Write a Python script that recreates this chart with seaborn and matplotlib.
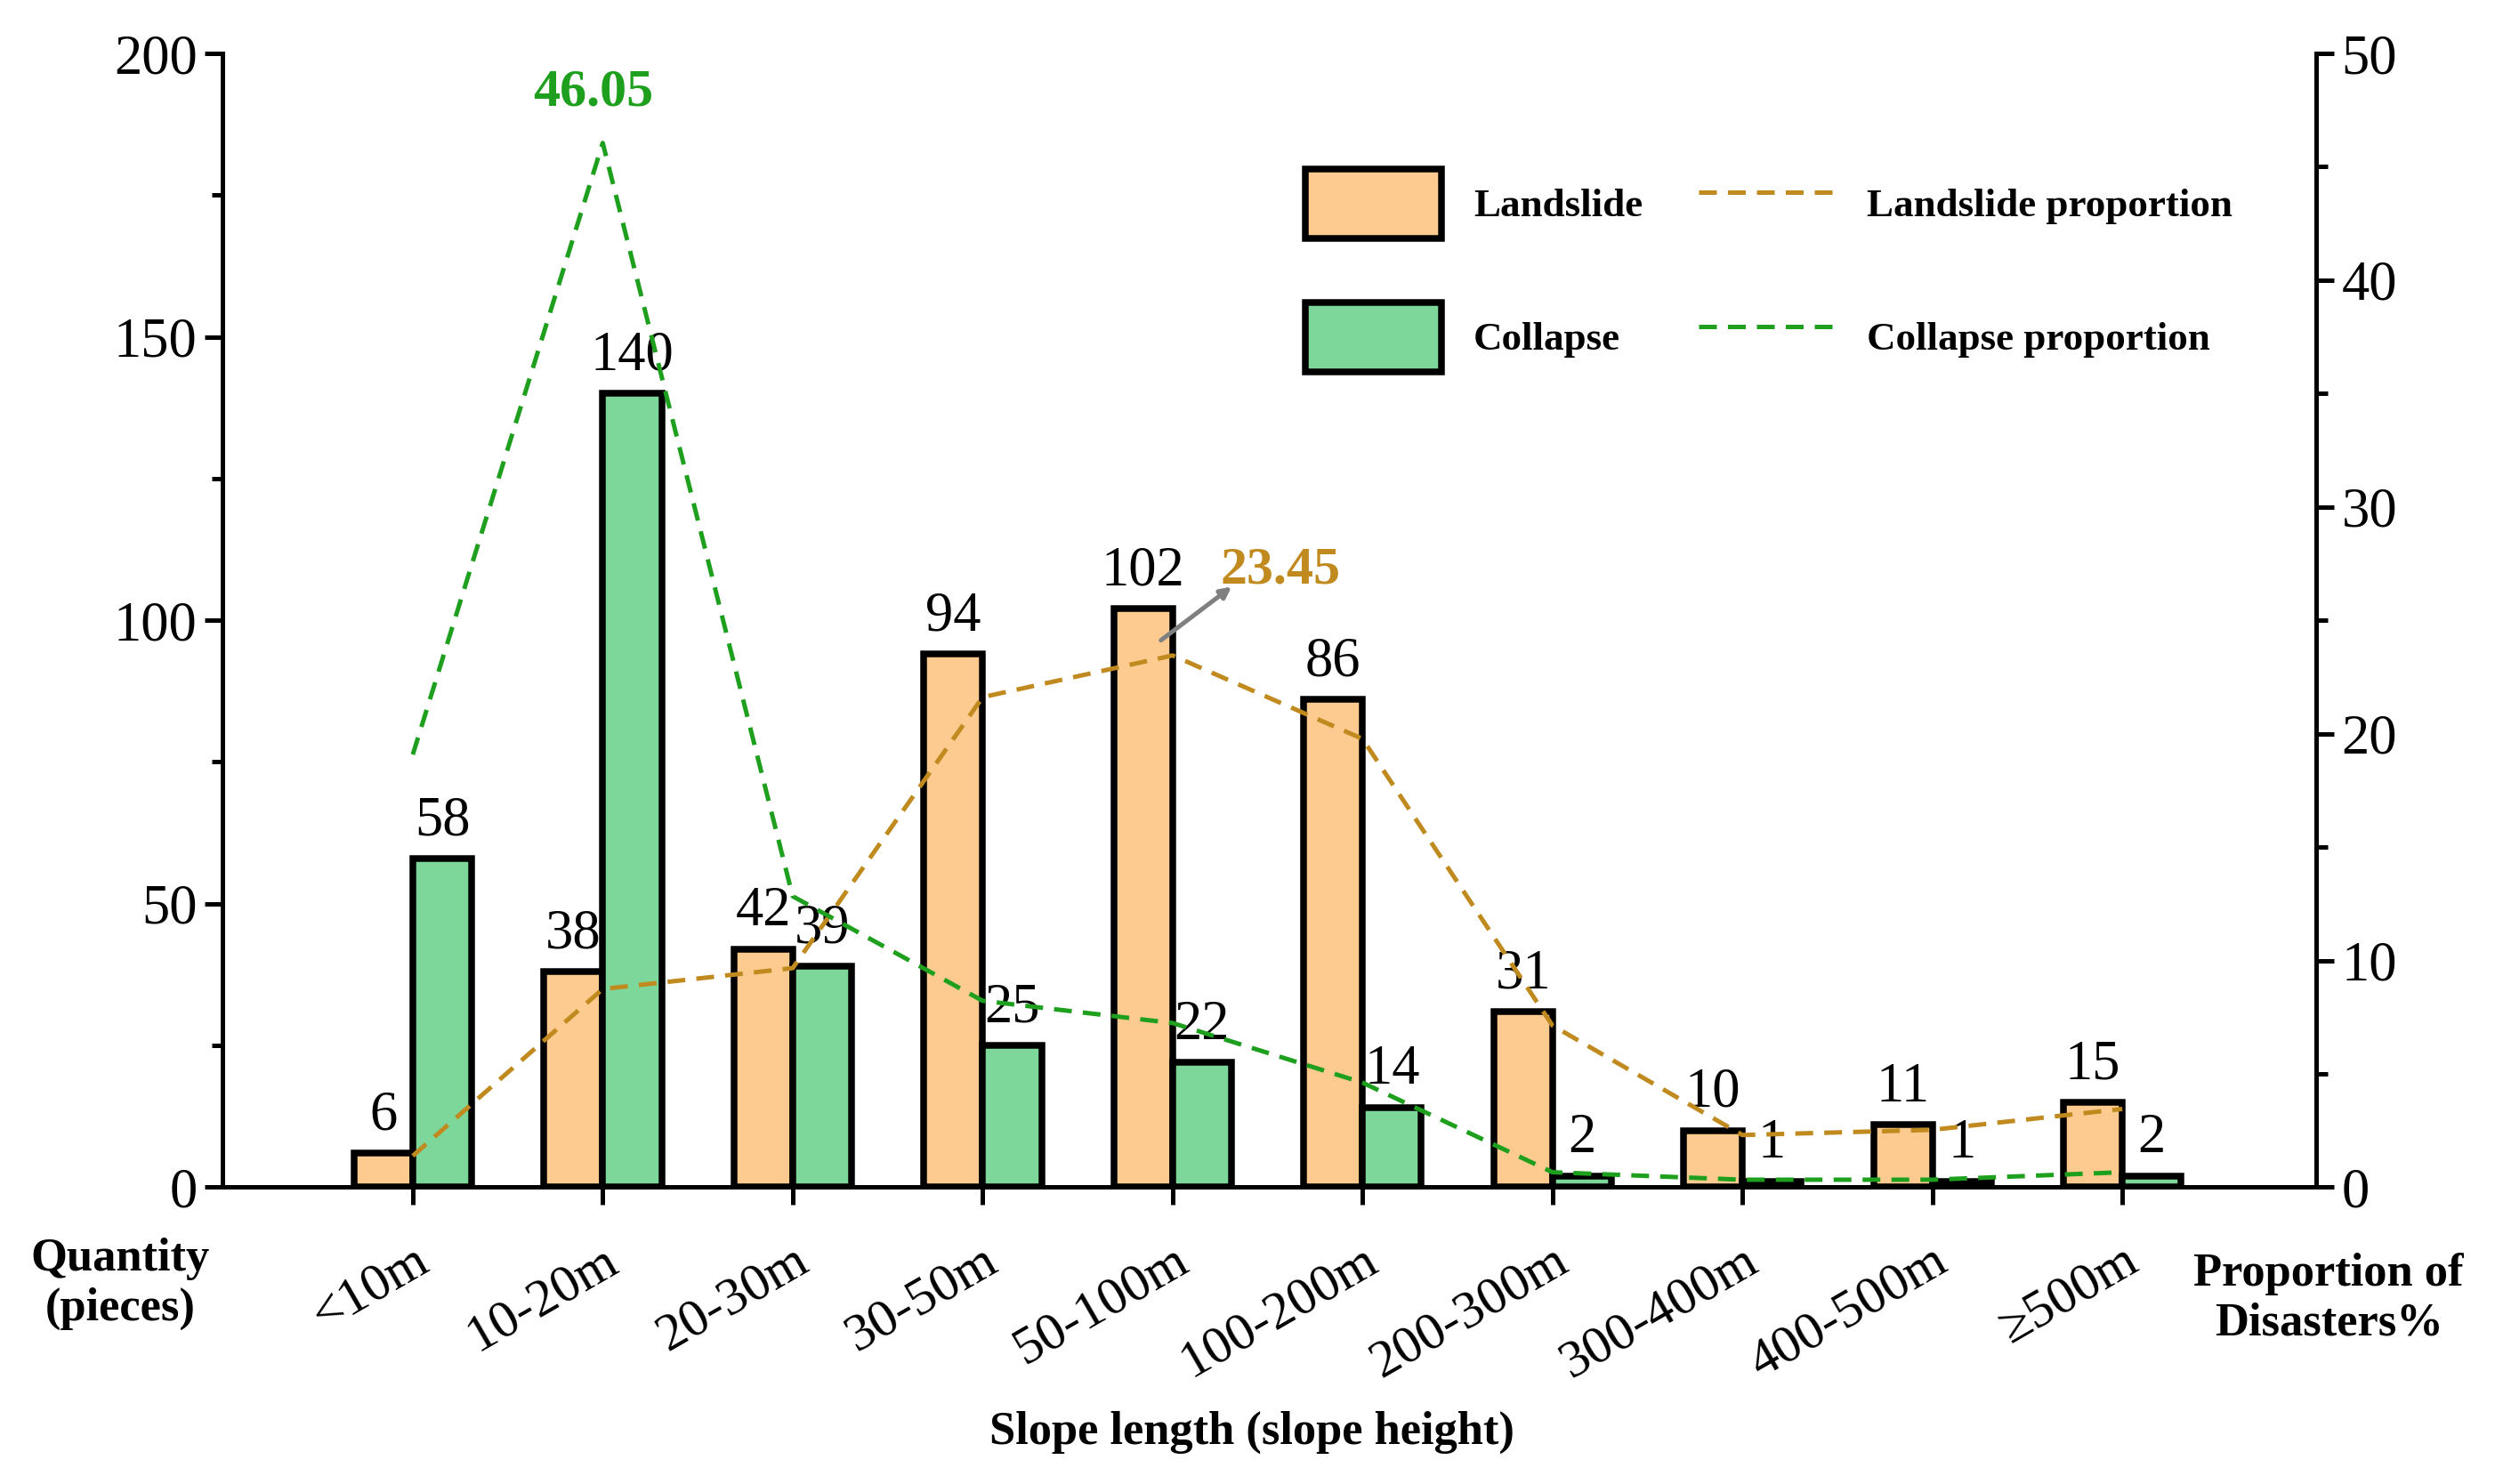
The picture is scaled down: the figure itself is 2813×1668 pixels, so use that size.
import matplotlib
matplotlib.use("Agg")
import matplotlib.pyplot as plt
import seaborn as sns
import pandas as pd
import numpy as np
from matplotlib.patches import Patch
from matplotlib.lines import Line2D

# ---------------- data ----------------
categories = ["<10m", "10-20m", "20-30m", "30-50m", "50-100m",
              "100-200m", "200-300m", "300-400m", "400-500m", "\u2265500m"]
landslide = [6, 38, 42, 94, 102, 86, 31, 10, 11, 15]
collapse = [58, 140, 39, 25, 22, 14, 2, 1, 1, 2]
landslide_prop = [1.38, 8.74, 9.66, 21.61, 23.45, 19.77, 7.13, 2.30, 2.53, 3.45]
collapse_prop = [19.08, 46.05, 12.83, 8.22, 7.24, 4.61, 0.66, 0.33, 0.33, 0.66]

C_LAND = "#FDCB8F"
C_COLL = "#7DD69A"
C_LLINE = "#C08A1E"
C_CLINE = "#1EA01E"

plt.rcParams["font.family"] = "Liberation Serif"

df = pd.DataFrame({
    "cat": categories * 2,
    "count": landslide + collapse,
    "type": ["Landslide"] * 10 + ["Collapse"] * 10,
})

fig = plt.figure(figsize=(15.633, 9.267), dpi=180)
ax = fig.add_axes([0.089, 0.2, 0.836, 0.764])

sns.barplot(data=df, x="cat", y="count", hue="type", order=categories,
            palette={"Landslide": C_LAND, "Collapse": C_COLL},
            width=0.62, edgecolor="black", linewidth=3, saturation=1,
            legend=False, ax=ax)

x = np.arange(len(categories))
for i in range(len(categories)):
    ax.text(i - 0.155, landslide[i] + 2, str(landslide[i]), ha="center",
            va="bottom", fontsize=25)
    ax.text(i + 0.155, collapse[i] + 2, str(collapse[i]), ha="center",
            va="bottom", fontsize=25)

ax.set_xlim(-1, 10.02)
ax.set_ylim(0, 200)
ax.set_yticks([0, 50, 100, 150, 200])
ax.set_yticks(np.arange(0, 201, 25), minor=True)
ax.set_xticks(x)
ax.set_xticklabels(categories, rotation=30, ha="right", rotation_mode="anchor",
                   fontsize=24)
ax.tick_params(axis="y", labelsize=25, width=2, length=8)
ax.tick_params(axis="y", which="minor", width=2, length=5)
ax.tick_params(axis="x", width=2, length=8, pad=14)
ax.set_xlabel("")
ax.set_ylabel("")
ax.spines["top"].set_visible(False)
for s in ["left", "bottom", "right"]:
    ax.spines[s].set_linewidth(2)

ax2 = ax.twinx()
ax2.plot(x, landslide_prop, ls=(0, (4, 2.5)), color=C_LLINE, lw=2)
ax2.plot(x, collapse_prop, ls=(0, (4, 2.5)), color=C_CLINE, lw=2)
ax2.set_ylim(0, 50)
ax2.set_yticks([0, 10, 20, 30, 40, 50])
ax2.set_yticks(np.arange(0, 51, 5), minor=True)
ax2.tick_params(axis="y", labelsize=25, width=2, length=8)
ax2.tick_params(axis="y", which="minor", width=2, length=5)
ax2.spines["top"].set_visible(False)
ax2.spines["right"].set_linewidth(2)

ax2.text(0.95, 47.2, "46.05", color=C_CLINE, fontsize=24, fontweight="bold",
         ha="center", va="bottom")
ax2.annotate("23.45", xy=(4.25, 27.2), color=C_LLINE,
             fontsize=24, fontweight="bold", va="center")
ax2.annotate("", xy=(4.33, 26.6), xytext=(3.92, 24.0),
             arrowprops=dict(arrowstyle="-|>", color="gray", lw=2))

handles = [Patch(facecolor=C_LAND, edgecolor="black", linewidth=3),
           Patch(facecolor=C_COLL, edgecolor="black", linewidth=3),
           Line2D([], [], color=C_LLINE, ls=(0, (4, 2.5)), lw=2),
           Line2D([], [], color=C_CLINE, ls=(0, (4, 2.5)), lw=2)]
labels = ["Landslide", "Collapse", "Landslide proportion", "Collapse proportion"]
ax2.legend(handles, labels, ncol=2, loc="upper left",
           bbox_to_anchor=(0.5, 0.93), frameon=False,
           prop={"family": "Liberation Serif", "weight": "bold", "size": 18},
           handlelength=3.4, handleheight=2.3, labelspacing=1.6,
           columnspacing=1.4)

fig.text(0.048, 0.135, "Quantity\n(pieces)", ha="center", va="center",
         fontsize=21, fontweight="bold")
fig.text(0.93, 0.125, "Proportion of\nDisasters%", ha="center", va="center",
         fontsize=21, fontweight="bold")
fig.text(0.5, 0.035, "Slope length (slope height)", ha="center", va="center",
         fontsize=21, fontweight="bold")

fig.savefig("out.png", dpi=180)
